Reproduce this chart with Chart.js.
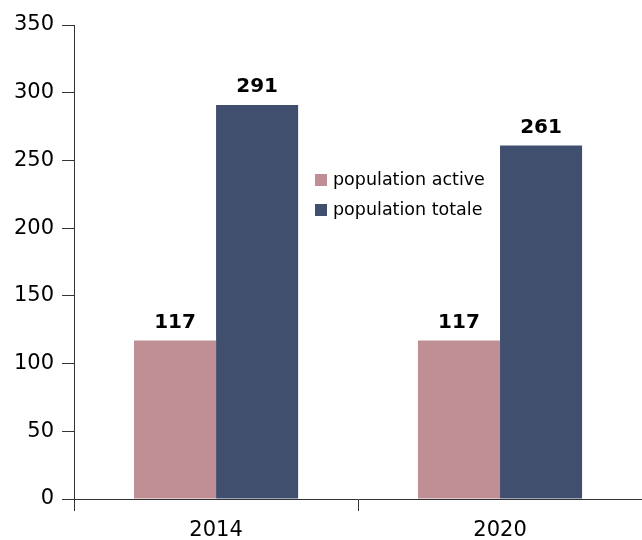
<!DOCTYPE html>
<html>
<head>
<meta charset="utf-8">
<script src="https://cdn.jsdelivr.net/npm/chart.js@4"></script>
<style>
  html, body { margin: 0; padding: 0; background: #ffffff; }
  #wrap { width: 642px; height: 540px; position: relative; }
</style>
</head>
<body>
<div id="wrap"><canvas id="popChart"></canvas></div>
<script>
const years = ["2014", "2020"];
const activeValues = [117, 117];
const totalValues = [291, 261];
const yTicks = [0, 50, 100, 150, 200, 250, 300, 350];

const FONT = "'DejaVu Sans', Verdana, sans-serif";

// value labels above each bar
const valueLabels = {
  id: "valueLabels",
  afterDatasetsDraw(chart) {
    const ctx = chart.ctx;
    ctx.save();
    ctx.font = "bold 20px " + FONT;
    ctx.fillStyle = "#000000";
    ctx.textAlign = "center";
    ctx.textBaseline = "bottom";
    chart.data.datasets.forEach((ds, i) => {
      chart.getDatasetMeta(i).data.forEach((bar, j) => {
        ctx.fillText(String(ds.data[j]), bar.x, bar.y - 8);
      });
    });
    ctx.restore();
  }
};

// legend drawn inside the plot, middle of the chart
const innerLegend = {
  id: "innerLegend",
  afterDraw(chart) {
    const ctx = chart.ctx;
    const x = 315;
    let y = 180;
    ctx.save();
    ctx.font = "17.5px " + FONT;
    ctx.textBaseline = "middle";
    ctx.textAlign = "left";
    chart.data.datasets.forEach((ds) => {
      ctx.fillStyle = ds.backgroundColor;
      ctx.fillRect(x, y - 6, 12, 12);
      ctx.fillStyle = "#000000";
      ctx.fillText(ds.label, x + 18, y);
      y += 30;
    });
    ctx.restore();
  }
};

new Chart(document.getElementById("popChart"), {
  type: "bar",
  data: {
    labels: years,
    datasets: [
      {
        label: "population active",
        data: activeValues,
        backgroundColor: "#bf8f95"
      },
      {
        label: "population totale",
        data: totalValues,
        backgroundColor: "#414f6e"
      }
    ]
  },
  options: {
    responsive: true,
    maintainAspectRatio: false,
    animation: false,
    devicePixelRatio: 1,
    layout: {
      padding: { top: 25, right: 0, left: 6, bottom: 0 }
    },
    datasets: {
      bar: {
        barPercentage: 1,
        categoryPercentage: 0.578
      }
    },
    plugins: {
      legend: { display: false },
      tooltip: { enabled: false }
    },
    scales: {
      x: {
        afterFit(scale) {
          scale.height = 41;
        },
        grid: {
          offset: true,
          drawOnChartArea: false,
          drawTicks: true,
          tickLength: 12,
          color: "#333333"
        },
        border: { color: "#333333", width: 1 },
        ticks: {
          color: "#000000",
          font: { family: FONT, size: 21 },
          padding: 7
        }
      },
      y: {
        min: 0,
        max: 350,
        afterBuildTicks(axis) {
          axis.ticks = yTicks.map((v) => ({ value: v }));
        },
        grid: {
          drawOnChartArea: false,
          drawTicks: true,
          tickLength: 12,
          color: "#333333"
        },
        border: { color: "#333333", width: 1 },
        ticks: {
          color: "#000000",
          font: { family: FONT, size: 21 },
          padding: 8
        }
      }
    }
  },
  plugins: [valueLabels, innerLegend]
});
</script>
</body>
</html>
